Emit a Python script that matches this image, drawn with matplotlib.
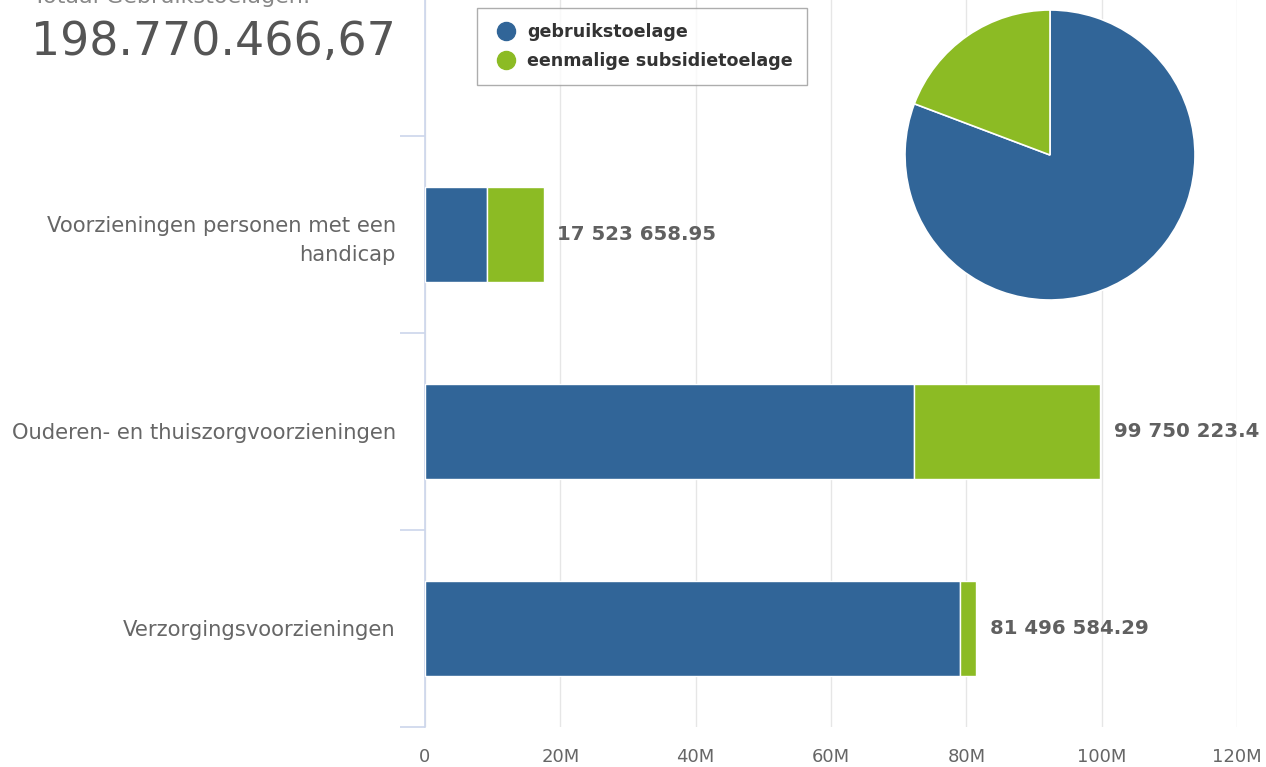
import numpy as np
import matplotlib
matplotlib.use("Agg")
import matplotlib.pyplot as plt
from matplotlib.lines import Line2D

# data
categories = ["Verzorgingsvoorzieningen",
              "Ouderen- en thuiszorgvoorzieningen",
              "Voorzieningen personen met een\nhandicap"]
gebruik = [79_000_000.00, 72_300_000.00, 9_200_000.00]
eenmalig = [2_496_584.29, 27_450_223.40, 8_323_658.95]
series_names = ["gebruikstoelage", "eenmalige subsidietoelage"]
xticks = [0, 20e6, 40e6, 60e6, 80e6, 100e6, 120e6]
xticklabels = ["0", "20M", "40M", "60M", "80M", "100M", "120M"]
total_title = "Totaal Gebruikstoelagen:"
total_text = "198.770.466,67"

blue = "#316598"
green = "#8cbb24"
grey = "#666666"

def fmt(v):
    s = f"{v:,.2f}".replace(",", " ")
    if s.endswith("0") and not s.endswith(".00"):
        s = s[:-1]
    return s

plt.rcParams["font.family"] = ["DejaVu Sans"]
W, H = 1266, 767
fig = plt.figure(figsize=(W / 100, H / 100), dpi=100)

ax_l, ax_r, ax_b, ax_t = 425, 1237, 727, 0
ax = fig.add_axes([ax_l / W, 1 - ax_b / H, (ax_r - ax_l) / W, (ax_b - ax_t) / H])

y = np.arange(len(categories))
ax.barh(y, gebruik, height=0.48, color=blue, edgecolor="white", linewidth=1, zorder=3)
ax.barh(y, eenmalig, left=gebruik, height=0.48, color=green, edgecolor="white", linewidth=1, zorder=3)

for yi, g, e in zip(y, gebruik, eenmalig):
    tot = g + e
    ax.text(tot + 2.0e6, yi, fmt(tot), va="center", ha="left", fontsize=14.2,
            fontweight="bold", color="#606060")

ax.set_xlim(0, 120e6)
ax.set_ylim(-0.5, 3.19)
ax.set_xticks(xticks)
ax.set_xticklabels(xticklabels, fontsize=13, color=grey)
ax.tick_params(axis="x", length=0, pad=15)
ax.set_yticks(y)
ax.set_yticklabels(categories, fontsize=15.2, color=grey, linespacing=1.55)
ax.set_yticks(np.arange(-0.5, 3.0, 1.0), minor=True)
ax.tick_params(axis="y", which="major", length=0, pad=21)
ax.tick_params(axis="y", which="minor", length=18, color="#ccd6eb", width=1.2)
ax.grid(axis="x", color="#e6e6e6", linewidth=1, zorder=0)
for s in ["top", "right", "bottom"]:
    ax.spines[s].set_visible(False)
ax.spines["left"].set_color("#ccd6eb")
ax.spines["left"].set_linewidth(1.2)
ax.set_facecolor("none")

# legend
handles = [Line2D([], [], marker="o", linestyle="", markersize=13, color=c)
           for c in [blue, green]]
leg = fig.legend(handles, series_names, loc="upper left",
                 bbox_to_anchor=(477 / W, 1 - 8 / H), frameon=True,
                 prop={"weight": "bold", "size": 12.6}, labelcolor="#333333",
                 handletextpad=0.4, borderpad=0.85, labelspacing=0.65,
                 handlelength=1.6, fancybox=False, borderaxespad=0)
leg.get_frame().set_edgecolor("#999999")
leg.get_frame().set_linewidth(1)

# pie of the two totals
cx, cy, r = 1050, 155, 145
pax = fig.add_axes([(cx - r) / W, 1 - (cy + r) / H, 2 * r / W, 2 * r / H])
pax.pie([sum(gebruik), sum(eenmalig)], colors=[blue, green], startangle=90,
        counterclock=False, wedgeprops={"edgecolor": "white", "linewidth": 1.2})
pax.set_xlim(-1, 1)
pax.set_ylim(-1, 1)
pax.set_aspect("equal")

fig.text(33 / W, 1 - (-3) / H, total_title, fontsize=16, color="#888888",
         ha="left", va="center")
fig.text(31 / W, 1 - 42 / H, total_text, fontsize=33, color="#555555",
         ha="left", va="center")

fig.savefig("out.png", dpi=100)
